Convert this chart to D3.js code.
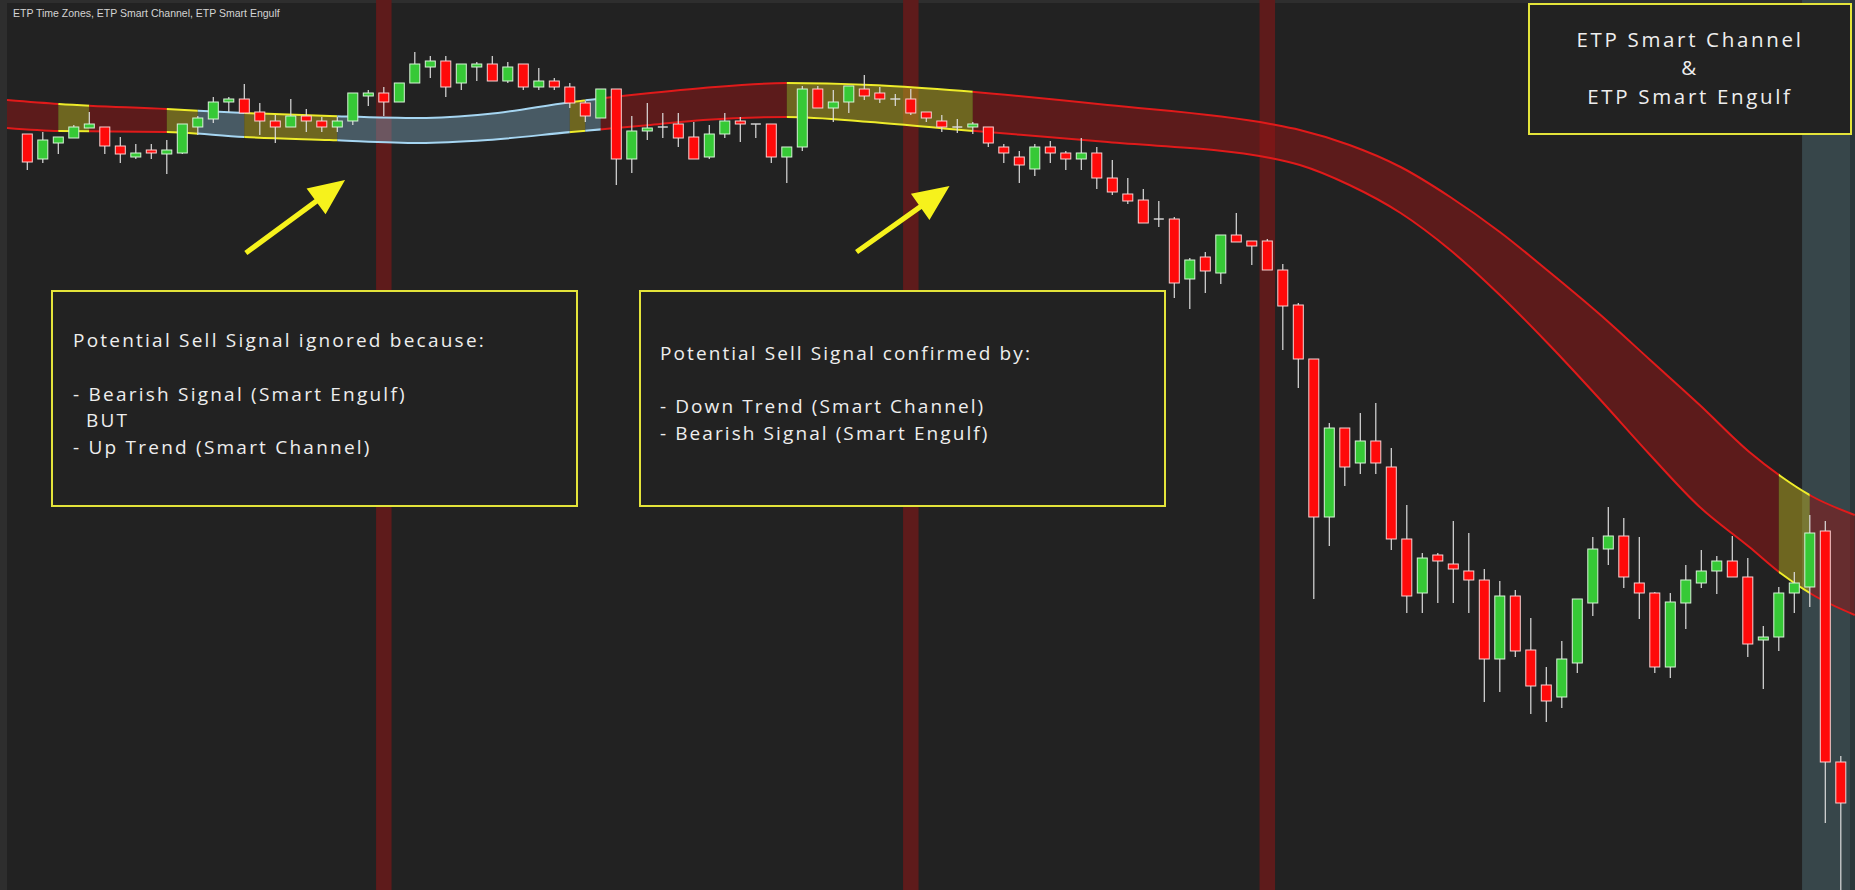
<!DOCTYPE html>
<html>
<head>
<meta charset="utf-8">
<title>ETP Smart Channel & ETP Smart Engulf</title>
<script src="https://cdn.jsdelivr.net/npm/d3@7"></script>
<style>
  html, body { margin: 0; padding: 0; background: #222222; overflow: hidden; }
  svg { display: block; }
</style>
</head>
<body>
<div id="chart"></div>
<script>
// candle rows: [open, high, low, close]
const ohlc = [
  [186.6,186.6,183.0,183.8],[184.1,186.8,183.7,186.0],[185.7,186.3,184.6,186.3],[186.2,187.5,186.2,187.3],
  [187.2,188.8,187.2,187.6],[187.3,187.3,184.6,185.4],[185.4,186.3,183.7,184.6],[184.3,185.6,184.1,184.7],
  [185.0,185.6,184.1,184.7],[184.6,186.0,182.6,185.0],[184.7,187.6,184.6,187.6],[187.3,188.4,186.5,188.2],
  [188.1,190.3,187.7,189.8],[189.8,190.3,188.8,190.1],[190.1,191.6,188.7,188.7],[188.8,189.7,186.5,187.9],
  [187.9,188.5,185.7,187.3],[187.3,190.1,187.3,188.4],[188.4,189.1,186.8,187.9],[187.9,188.3,186.8,187.3],
  [187.3,188.3,186.8,187.9],[187.9,190.7,187.5,190.7],[190.4,191.0,189.4,190.7],[190.7,191.3,188.4,189.8],
  [189.8,191.7,189.8,191.7],[191.7,194.8,191.7,193.6],[193.3,194.4,192.2,193.9],[193.9,194.4,190.3,191.3],
  [191.7,193.6,191.0,193.6],[193.3,193.8,191.9,193.6],[193.6,194.4,191.9,191.9],[191.9,193.8,191.7,193.3],
  [193.6,193.6,191.0,191.3],[191.3,193.2,191.0,191.9],[191.9,192.2,191.0,191.3],[191.3,191.7,189.2,189.7],
  [189.7,189.9,187.8,188.4],[188.2,191.1,188.2,191.1],[191.1,191.1,181.5,184.1],[184.1,188.4,182.7,186.9],
  [186.9,189.7,186.0,187.2],[187.3,188.7,186.2,187.3],[187.6,188.7,185.3,186.2],[186.3,187.8,184.1,184.1],
  [184.3,187.5,184.1,186.6],[186.6,188.7,186.2,187.9],[187.9,188.3,185.8,187.6],[187.6,187.6,186.2,187.6],
  [187.6,187.6,183.7,184.3],[184.3,185.3,181.7,185.3],[185.3,191.4,184.9,191.1],[191.1,191.4,189.2,189.2],
  [189.2,191.0,187.8,189.8],[189.8,191.4,188.7,191.4],[191.1,192.5,190.0,190.4],[190.7,191.3,189.7,190.1],
  [190.1,190.6,189.4,190.1],[190.1,191.1,188.5,188.7],[188.8,188.8,187.8,188.2],[187.9,188.5,186.8,187.3],
  [187.3,188.1,186.7,187.3],[187.3,187.8,186.6,187.6],[187.3,187.3,185.3,185.7],[185.3,185.6,183.7,184.7],
  [184.3,184.9,181.7,183.5],[183.1,185.6,182.4,185.3],[185.3,185.9,183.7,184.7],[184.7,184.9,183.0,184.1],
  [184.1,186.2,183.0,184.7],[184.7,185.3,181.1,182.2],[182.2,184.0,180.5,180.8],[180.6,182.2,179.6,179.9],
  [180.0,181.1,177.7,177.7],[178.1,179.9,177.3,178.1],[178.1,178.3,170.2,171.7],[172.1,174.2,169.1,174.0],
  [174.3,174.8,170.7,172.9],[172.7,176.5,171.6,176.5],[176.5,178.7,175.8,175.8],[175.9,175.9,173.5,175.4],
  [175.9,176.1,173.0,173.0],[173.0,173.6,165.0,169.4],[169.5,169.7,161.2,164.1],[164.1,164.1,140.1,148.3],
  [148.3,157.7,145.4,157.2],[157.2,157.2,151.4,153.3],[153.7,158.7,152.6,155.9],[155.9,159.7,152.6,153.7],
  [153.3,155.2,145.0,146.1],[146.1,149.5,138.7,140.4],[140.7,144.7,138.7,144.2],[144.5,144.7,139.7,143.9],
  [143.6,147.9,139.7,143.1],[142.9,146.7,138.7,142.0],[142.0,143.1,129.8,134.1],[134.1,141.9,130.8,140.4],
  [140.4,141.0,134.3,134.9],[135.0,138.2,128.6,131.4],[131.5,133.3,127.8,129.9],[130.3,135.9,129.2,134.1],
  [133.7,140.1,132.7,140.1],[139.7,146.3,138.4,145.1],[145.1,149.3,143.5,146.4],[146.4,148.2,141.2,142.3],
  [141.7,146.3,138.1,140.7],[140.7,140.8,132.7,133.3],[133.3,140.7,132.2,139.8],[139.7,143.5,137.1,142.0],
  [141.7,145.0,141.2,142.9],[142.9,144.4,140.6,143.9],[143.9,146.4,142.3,142.3],[142.3,144.2,134.3,135.6],
  [136.0,137.4,131.1,136.3],[136.3,141.3,134.9,140.7],[140.7,142.8,138.7,141.7],[141.3,148.5,139.3,146.7],
  [146.9,147.9,117.7,123.8],[123.8,124.4,110.0,119.7]
];

// smart channel, sampled at bar positions
const bandIdx   = [-1.31, 2.05, 9.0, 14.0, 19.5, 25.3, 29.7, 35.1, 40.2, 43.6, 49.0, 54.4, 59.5, 69.7, 80.2, 82.1, 85.3, 88.6, 91.8, 95.0, 98.2, 101.5, 104.7, 107.9, 111.1, 113.1, 115.1, 117.9];
const bandUpper = [190.0, 189.6, 189.1, 188.7, 188.4, 188.2, 188.6, 189.8, 190.7, 191.2, 191.7, 191.5, 191.0, 189.5, 187.6, 187.0, 185.5, 183.3, 180.3, 176.8, 172.8, 168.5, 164.0, 159.5, 154.8, 152.4, 150.4, 148.5];
const bandLower = [187.2, 186.9, 186.8, 186.3, 186.0, 185.7, 186.0, 186.8, 187.5, 188.0, 188.3, 187.8, 187.1, 185.8, 184.2, 183.5, 181.5, 178.7, 175.0, 170.5, 165.5, 160.0, 154.5, 149.3, 145.3, 142.7, 140.6, 138.5];

// channel state between bar positions
const segFrom  = [-2, 2, 4, 9, 11, 14, 20, 35, 36, 37, 49, 61, 113, 115];
const segTo    = [2, 4, 9, 11, 14, 20, 35, 36, 37, 49, 61, 113, 115, 119];
const segState = ["down","signal","down","signal","up","signal","up","signal","up","down","signal","down","signal","down"];

// time zones (bar index) and the session zone on the right
const timeZones = [23, 57, 80];
const sessionZone = [114.5, 119];

// annotation arrows in bar / price units: [tailBar, tailPrice, tipBar, tipPrice]
const arrows = [[14.1, 174.7, 20.5, 182.0], [53.5, 174.8, 59.5, 181.4]];

// note texts: [text, indent]
const noteLeft  = [["Potential Sell Signal ignored because:", 0], ["", 0], ["- Bearish Signal (Smart Engulf)", 0], ["BUT", 13], ["- Up Trend (Smart Channel)", 0]];
const noteRight = [["Potential Sell Signal confirmed by:", 0], ["", 0], ["- Down Trend (Smart Channel)", 0], ["- Bearish Signal (Smart Engulf)", 0]];
const titleBox  = [["ETP Smart Channel", 0], ["&", 0], ["ETP Smart Engulf", 0]];

const W = 1855, H = 890;
const svg = d3.select("#chart").append("svg")
    .attr("width", W)
    .attr("height", H);

const x = d3.scaleLinear().domain([0, ohlc.length - 1]).range([27.3, 1840.8]);
const y = d3.scaleLinear().domain([111, 200]).range([H, 0]);
const step = x(1) - x(0);

// background + frame
svg.append("rect").attr("width", W).attr("height", H).attr("fill", "#222222");
svg.append("rect").attr("width", 7).attr("height", H).attr("fill", "#2e2e2e");
svg.append("rect").attr("width", W).attr("height", 3).attr("fill", "#2e2e2e");

// time zones
svg.selectAll(".tz")
    .data(timeZones)
    .enter().append("rect")
    .attr("class", "tz")
    .attr("x", d => x(d - 0.5))
    .attr("width", step)
    .attr("y", 0)
    .attr("height", H)
    .attr("fill", "#5e1b1b");

svg.append("rect")
    .attr("x", x(sessionZone[0]))
    .attr("width", W - x(sessionZone[0]))
    .attr("y", 0)
    .attr("height", H)
    .attr("fill", "#37464a");
svg.append("rect")
    .attr("x", W - 5).attr("width", 5)
    .attr("y", 0).attr("height", H)
    .attr("fill", "#2b3639");

// smart channel
const bandPts = bandIdx.map((d, i) => ({ i: d, hi: bandUpper[i], lo: bandLower[i] }));
const area = d3.area().x(d => x(d.i)).y0(d => y(d.lo)).y1(d => y(d.hi)).curve(d3.curveMonotoneX);
const upper = d3.line().x(d => x(d.i)).y(d => y(d.hi)).curve(d3.curveMonotoneX);
const lower = d3.line().x(d => x(d.i)).y(d => y(d.lo)).curve(d3.curveMonotoneX);

const stateStyle = {
    down:   { fill: "rgba(150,20,20,0.5)",   line: "#e01a1a" },
    up:     { fill: "rgba(130,175,200,0.4)", line: "#a6d6f2" },
    signal: { fill: "rgba(185,170,30,0.5)",  line: "#eeec2a" }
};

const defs = svg.append("defs");
segFrom.forEach((f, k) => {
    defs.append("clipPath").attr("id", "seg" + k)
        .append("rect")
        .attr("x", x(f))
        .attr("width", x(segTo[k]) - x(f))
        .attr("y", 0)
        .attr("height", H);
    const s = stateStyle[segState[k]];
    const g = svg.append("g").attr("clip-path", `url(#seg${k})`);
    g.append("path").datum(bandPts).attr("d", area).attr("fill", s.fill);
    g.append("path").datum(bandPts).attr("d", upper).attr("fill", "none").attr("stroke", s.line).attr("stroke-width", 2);
    g.append("path").datum(bandPts).attr("d", lower).attr("fill", "none").attr("stroke", s.line).attr("stroke-width", 2);
});

// candles
const bars = ohlc.map((d, i) => ({ i, o: d[0], h: d[1], l: d[2], c: d[3] }));
const cg = svg.append("g");
cg.selectAll(".wick")
    .data(bars)
    .enter().append("line")
    .attr("class", "wick")
    .attr("x1", d => x(d.i)).attr("x2", d => x(d.i))
    .attr("y1", d => y(d.h)).attr("y2", d => y(d.l))
    .attr("stroke", "#dddddd")
    .attr("stroke-width", 1.2);

cg.selectAll(".body")
    .data(bars.filter(d => d.o !== d.c))
    .enter().append("rect")
    .attr("class", "body")
    .attr("x", d => x(d.i) - 5)
    .attr("width", 10)
    .attr("y", d => y(Math.max(d.o, d.c)))
    .attr("height", d => Math.max(2, Math.abs(y(d.o) - y(d.c))))
    .attr("fill", d => d.c > d.o ? "#36c936" : "#ff0a0a")
    .attr("stroke", d => d.c > d.o ? "#d6f2d6" : "#f8d0d0")
    .attr("stroke-width", 1);

cg.selectAll(".doji")
    .data(bars.filter(d => d.o === d.c))
    .enter().append("line")
    .attr("class", "doji")
    .attr("x1", d => x(d.i) - 5).attr("x2", d => x(d.i) + 5)
    .attr("y1", d => y(d.o)).attr("y2", d => y(d.o))
    .attr("stroke", "#dddddd")
    .attr("stroke-width", 1.4);

// annotation boxes
const fontFace = "'Open Sans', 'DejaVu Sans', sans-serif";

function noteBox(lines, bx, by, bw, bh, tx, ty, lh, anchor, size, targetWidth) {
    svg.append("rect")
        .attr("x", bx).attr("y", by)
        .attr("width", bw).attr("height", bh)
        .attr("fill", "#222222")
        .attr("stroke", "#e4e43a")
        .attr("stroke-width", 2);
    const t = svg.append("g")
        .attr("font-family", fontFace)
        .attr("font-size", size)
        .attr("fill", "#eeeeee")
        .attr("text-anchor", anchor);
    const texts = t.selectAll("text")
        .data(lines.filter(d => d[0] !== ""))
        .enter().append("text")
        .attr("x", d => tx + d[1])
        .attr("y", d => ty + lines.indexOf(d) * lh)
        .text(d => d[0]);
    // widen the tracking so the first line spans the same width as in the screenshot
    const w = texts.node().getComputedTextLength();
    const n = lines[0][0].length;
    texts.attr("letter-spacing", Math.max(0, (targetWidth - w) / n));
}

noteBox(noteLeft, 52, 291, 525, 215, 73, 347, 26.8, "start", 19, 413);
noteBox(noteRight, 640, 291, 525, 215, 660, 360, 26.7, "start", 19, 372);
noteBox(titleBox, 1529, 4, 322, 130, 1690, 47, 28.3, "middle", 20.5, 227);

// arrows
arrows.forEach(a => {
    const tx = x(a[0]), ty = y(a[1]), px = x(a[2]), py = y(a[3]);
    const len = Math.hypot(px - tx, py - ty);
    const ux = (px - tx) / len, uy = (py - ty) / len;
    const nx = -uy, ny = ux;
    const headL = 36, headW = 16, shaft = 2.6;
    const bx = px - ux * headL, by = py - uy * headL;
    const pts = [
        [tx + nx * shaft, ty + ny * shaft],
        [bx + nx * shaft, by + ny * shaft],
        [bx + nx * headW, by + ny * headW],
        [px, py],
        [bx - nx * headW, by - ny * headW],
        [bx - nx * shaft, by - ny * shaft],
        [tx - nx * shaft, ty - ny * shaft]
    ];
    svg.append("path")
        .attr("d", "M" + pts.map(p => p.join(",")).join("L") + "Z")
        .attr("fill", "#f6f21c");
});

// indicator title
svg.append("text")
    .attr("x", 13)
    .attr("y", 17)
    .attr("font-family", "'Liberation Sans', Arial, sans-serif")
    .attr("font-size", 10.5)
    .attr("fill", "#d4d4d4")
    .text("ETP Time Zones, ETP Smart Channel, ETP Smart Engulf");
</script>
</body>
</html>
